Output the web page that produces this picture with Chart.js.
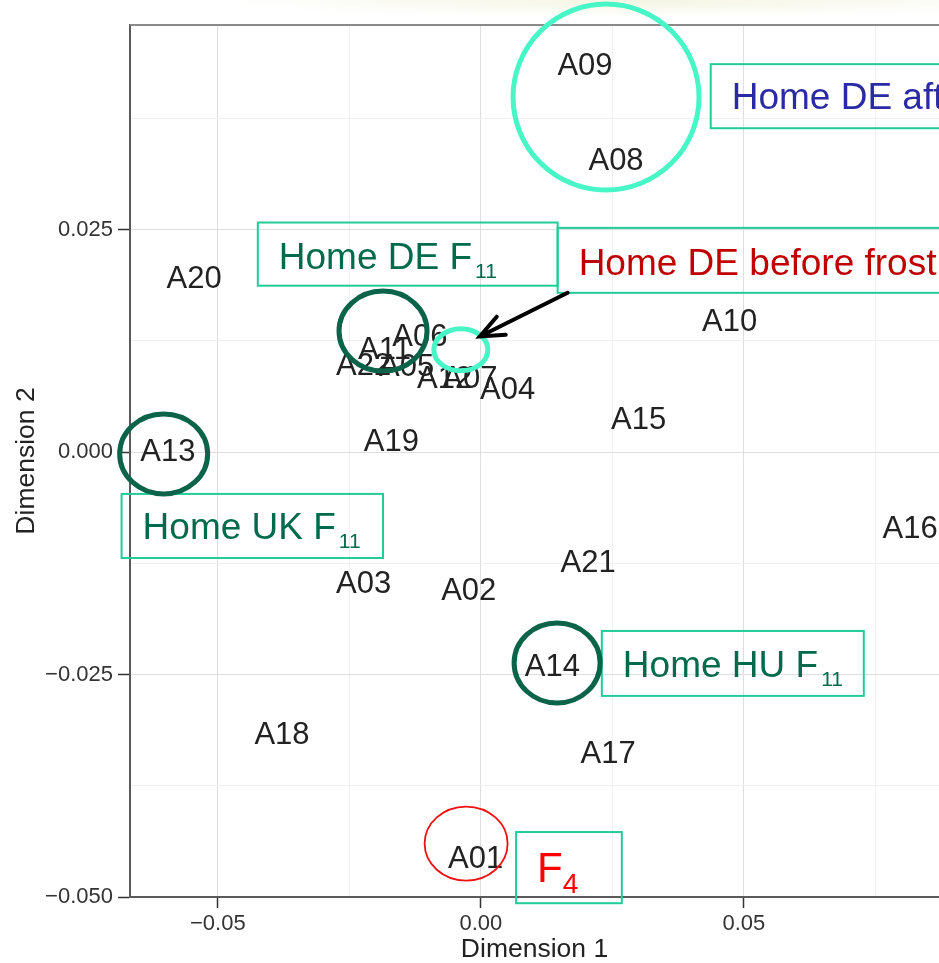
<!DOCTYPE html>
<html>
<head>
<meta charset="utf-8">
<script src="https://cdn.jsdelivr.net/npm/chart.js@4.4.1/dist/chart.umd.min.js"></script>
<style>
  html, body { margin: 0; padding: 0; background: #fff; }
  #wrap {
    width: 939px; height: 963px;
    background: radial-gradient(ellipse 420px 18px at 640px 0px, #f4f5e2, #ffffff);
  }
</style>
</head>
<body>
<div id="wrap"><canvas id="mdsChart" width="939" height="963"></canvas></div>
<script>
// sample names with their two MDS coordinates
const sampleNames = ['A01', 'A02', 'A03', 'A04', 'A05', 'A06', 'A07', 'A08', 'A09', 'A10', 'A11',
                     'A12', 'A13', 'A14', 'A15', 'A16', 'A17', 'A18', 'A19', 'A20', 'A21', 'A22'];
const dimension1 = [-0.0010, -0.0023, -0.0223, 0.0051, -0.0141, -0.0116, -0.0021, 0.0257, 0.0198, 0.0473, -0.0183,
                    -0.0069, -0.0595, 0.0136, 0.0300, 0.0816, 0.0242, -0.0378, -0.0170, -0.0545, 0.0204, -0.0223];
const dimension2 = [-0.0455, -0.0154, -0.0146, 0.0072, 0.0098, 0.0132, 0.0084, 0.0329, 0.0436, 0.0148, 0.0117,
                    0.0084, 0.0002, -0.0239, 0.0038, -0.0084, -0.0337, -0.0316, 0.0014, 0.0197, -0.0122, 0.0099];

// ticks that carry a label; the steps in between only get a light grid line
const xLabelTicks = [-0.05, 0, 0.05];
const yLabelTicks = [-0.05, -0.025, 0, 0.025];
const xRange = [-0.0667, 0.0871];
const yRange = [-0.05, 0.048];

const fontFace = '"Liberation Sans", Arial, Helvetica, sans-serif';
const aqua = '#48f5c6';
const darkGreen = '#0b6349';
const boxLine = '#22cc99';

// slide annotations, anchored in data units (sizes in px)
const rings = [
    { x: 0.0238, y: 0.0399, rx: 93, ry: 93, color: aqua, width: 5 },
    { x: -0.0186, y: 0.0136, rx: 44, ry: 40, color: darkGreen, width: 5 },
    { x: -0.0038, y: 0.0115, rx: 27, ry: 21, color: aqua, width: 5 },
    { x: -0.0603, y: -0.0002, rx: 44, ry: 40, color: darkGreen, width: 5 },
    { x: 0.0145, y: -0.0237, rx: 43, ry: 40, color: darkGreen, width: 5 },
    { x: -0.0028, y: -0.0440, rx: 41.5, ry: 37, color: '#f01010', width: 1.8 }
];
const notes = [
    { x0: 0.0437, x1: 0.0990, y0: 0.0436, y1: 0.0364, text: 'Home DE after frost', sub: '', color: '#2a2aa6', size: 37, drop: 45 },
    { x0: -0.0424, x1: 0.0146, y0: 0.0258, y1: 0.0187, text: 'Home DE F', sub: '11', color: '#006b4c', size: 37, drop: 46 },
    { x0: 0.0146, x1: 0.0990, y0: 0.0252, y1: 0.0179, text: 'Home DE before frost', sub: '', color: '#c00000', size: 37, drop: 47 },
    { x0: -0.0683, x1: -0.0186, y0: -0.0047, y1: -0.0119, text: 'Home UK F', sub: '11', color: '#006b4c', size: 37, drop: 45 },
    { x0: 0.0230, x1: 0.0728, y0: -0.0201, y1: -0.0274, text: 'Home HU F', sub: '11', color: '#006b4c', size: 37, drop: 46 },
    { x0: 0.0067, x1: 0.0268, y0: -0.0427, y1: -0.0507, text: 'F', sub: '4', color: '#ff0000', size: 42, drop: 50 }
];
const arrow = { x0: 0.0165, y0: 0.0179, x1: -0.0002, y1: 0.0130 };

function isLabelled(v, list) {
    return list.some(t => Math.abs(t - v) < 1e-9);
}
function fmt(v, digits) {
    if (Math.abs(v) < 1e-9) v = 0;
    return v.toFixed(digits).replace('-', '\u2212');
}

const annotationLayer = {
    id: 'annotationLayer',
    afterDatasetsDraw(chart) {
        // sample names written at the points
        const ctx = chart.ctx;
        const meta = chart.getDatasetMeta(0);
        ctx.save();
        ctx.font = '31px ' + fontFace;
        ctx.fillStyle = '#222';
        ctx.textAlign = 'center';
        ctx.textBaseline = 'alphabetic';
        meta.data.forEach((pt, i) => ctx.fillText(sampleNames[i], pt.x, pt.y + 11));
        ctx.restore();
    },
    afterDraw(chart) {
        const { ctx, chartArea, scales } = chart;
        const sx = scales.x, sy = scales.y;
        ctx.save();

        // top frame line
        ctx.strokeStyle = '#8a8a8a';
        ctx.lineWidth = 2;
        ctx.beginPath();
        ctx.moveTo(chartArea.left, chartArea.top);
        ctx.lineTo(chartArea.right, chartArea.top);
        ctx.stroke();

        // boxes with text
        notes.forEach(n => {
            const left = sx.getPixelForValue(n.x0), right = sx.getPixelForValue(n.x1);
            const top = sy.getPixelForValue(n.y0), bottom = sy.getPixelForValue(n.y1);
            const big = n.size > 40;
            ctx.strokeStyle = boxLine;
            ctx.lineWidth = 2;
            ctx.strokeRect(left, top, right - left, bottom - top);
            ctx.fillStyle = n.color;
            ctx.textAlign = 'left';
            ctx.textBaseline = 'alphabetic';
            ctx.font = n.size + 'px ' + fontFace;
            ctx.fillText(n.text, left + 21, top + n.drop);
            if (n.sub) {
                const w = ctx.measureText(n.text).width;
                const subSize = big ? 28 : 21;
                ctx.font = subSize + 'px ' + fontFace;
                ctx.fillText(n.sub, left + 21 + w + (big ? 0 : 3), top + n.drop + (big ? 11 : 9));
            }
        });

        // circles / ellipses
        rings.forEach(r => {
            ctx.strokeStyle = r.color;
            ctx.lineWidth = r.width;
            ctx.beginPath();
            ctx.ellipse(sx.getPixelForValue(r.x), sy.getPixelForValue(r.y), r.rx, r.ry, 0, 0, Math.PI * 2);
            ctx.stroke();
        });

        // arrow pointing at the small ring
        const ax0 = sx.getPixelForValue(arrow.x0), ay0 = sy.getPixelForValue(arrow.y0);
        const ax1 = sx.getPixelForValue(arrow.x1), ay1 = sy.getPixelForValue(arrow.y1);
        const ang = Math.atan2(ay0 - ay1, ax0 - ax1);
        ctx.strokeStyle = '#000';
        ctx.lineWidth = 4;
        ctx.lineCap = 'round';
        ctx.beginPath();
        ctx.moveTo(ax0, ay0);
        ctx.lineTo(ax1, ay1);
        ctx.moveTo(ax1 + 26 * Math.cos(ang - 0.4), ay1 + 26 * Math.sin(ang - 0.4));
        ctx.lineTo(ax1, ay1);
        ctx.lineTo(ax1 + 26 * Math.cos(ang + 0.4), ay1 + 26 * Math.sin(ang + 0.4));
        ctx.stroke();

        ctx.restore();
    }
};

const ctxMds = document.getElementById('mdsChart').getContext('2d');
new Chart(ctxMds, {
    type: 'scatter',
    data: {
        datasets: [{
            label: 'samples',
            data: dimension1.map((d1, i) => ({ x: d1, y: dimension2[i] })),
            pointRadius: 0,
            pointHoverRadius: 0
        }]
    },
    options: {
        responsive: false,
        animation: false,
        events: [],
        layout: { padding: { top: 25, right: 0, left: 0, bottom: 0 } },
        plugins: {
            legend: { display: false },
            tooltip: { enabled: false }
        },
        scales: {
            x: {
                type: 'linear',
                min: xRange[0],
                max: xRange[1],
                border: { display: true, color: '#5a5a5a', width: 2 },
                grid: {
                    color: c => isLabelled(c.tick.value, xLabelTicks) ? '#dedede' : '#f0f0f0',
                    tickColor: c => isLabelled(c.tick.value, xLabelTicks) ? '#333' : 'rgba(0,0,0,0)',
                    tickLength: 11,
                    tickWidth: 1.5,
                    lineWidth: 1
                },
                ticks: {
                    stepSize: 0.025,
                    includeBounds: false,
                    autoSkip: false,
                    maxRotation: 0,
                    padding: 3,
                    color: '#333',
                    font: { family: fontFace, size: 22 },
                    callback: v => isLabelled(v, xLabelTicks) ? fmt(v, 2) : ''
                },
                title: {
                    display: true,
                    text: 'Dimension 1',
                    color: '#222',
                    font: { family: fontFace, size: 26.5, lineHeight: 1 },
                    padding: { top: 0, bottom: 0 }
                },
                afterFit: s => { s.height = 66; }
            },
            y: {
                type: 'linear',
                min: yRange[0],
                max: yRange[1],
                border: { display: true, color: '#5a5a5a', width: 2 },
                grid: {
                    color: c => isLabelled(c.tick.value, yLabelTicks) ? '#dedede' : '#f0f0f0',
                    tickColor: c => isLabelled(c.tick.value, yLabelTicks) ? '#333' : 'rgba(0,0,0,0)',
                    tickLength: 12,
                    tickWidth: 1.5,
                    lineWidth: 1
                },
                ticks: {
                    stepSize: 0.0125,
                    includeBounds: false,
                    autoSkip: false,
                    padding: 5,
                    color: '#333',
                    font: { family: fontFace, size: 22 },
                    callback: v => isLabelled(v, yLabelTicks) ? fmt(v, 3) : ''
                },
                title: {
                    display: true,
                    text: 'Dimension 2',
                    color: '#222',
                    font: { family: fontFace, size: 26.5, lineHeight: 1 },
                    padding: { top: 13, bottom: 0 }
                },
                afterFit: s => { s.width = 130; }
            }
        }
    },
    plugins: [annotationLayer]
});
</script>
</body>
</html>
